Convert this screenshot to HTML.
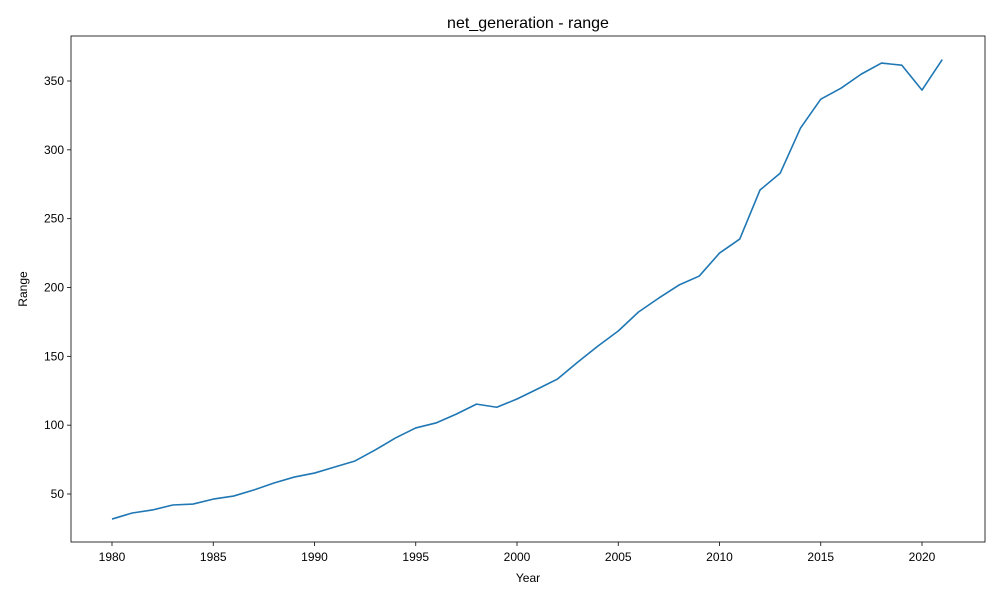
<!DOCTYPE html>
<html><head><meta charset="utf-8"><style>body{margin:0;background:#fff}svg{display:block;font-family:"Liberation Sans","DejaVu Sans",sans-serif}</style></head>
<body>
<svg id="chart" width="1000" height="600"></svg>
<script>
const years = [1980,1981,1982,1983,1984,1985,1986,1987,1988,1989,1990,1991,1992,1993,1994,1995,1996,1997,1998,1999,2000,2001,2002,2003,2004,2005,2006,2007,2008,2009,2010,2011,2012,2013,2014,2015,2016,2017,2018,2019,2020,2021];
const rangeValues = [31.8,36.2,38.4,42,42.7,46.3,48.5,52.9,58,62.3,65.2,69.6,74,82,90.7,98,101.6,108,115.3,113,119,126.2,133.5,145.8,157.5,168.4,182.2,192.3,201.8,208.3,225,235.2,270.8,283.1,315.8,336.8,344.8,355,363,361.5,343.4,365.6];
const xTicks = [1980,1985,1990,1995,2000,2005,2010,2015,2020];
const yTicks = [50,100,150,200,250,300,350];

const NS="http://www.w3.org/2000/svg";
const svg=document.getElementById('chart');
const L=71,R=985,T=36,B=542;
const x=v=>112+(v-1980)*(922-112)/40;
const y=v=>494-(v-50)*(494-81)/300;
function mk(tag,attrs,parent){const e=document.createElementNS(NS,tag);for(const k in attrs)e.setAttribute(k,attrs[k]);(parent||svg).appendChild(e);return e;}

const title=mk('text',{x:528,y:28,'text-anchor':'middle','font-size':16,fill:'#000'});


title.textContent='net_generation - range';

const line=mk('polyline',{points:years.map((yr,i)=>x(yr)+','+y(rangeValues[i])).join(' '),fill:'none',stroke:'#1f77b4','stroke-width':1.6,'stroke-linejoin':'round'});



const frame=mk('rect',{x:L,y:T,width:R-L,height:B-T,fill:'none',stroke:'#000','stroke-width':0.8});



xTicks.forEach(t=>{
  const g=mk('g',{});
  
  
  mk('line',{x1:x(t),x2:x(t),y1:B,y2:B+4,stroke:'#000','stroke-width':0.8},g);
  const tx=mk('text',{x:x(t),y:B+19,'text-anchor':'middle','font-size':12},g);tx.textContent=t;
});
yTicks.forEach(t=>{
  const g=mk('g',{});
  
  
  mk('line',{x1:L-4,x2:L,y1:y(t),y2:y(t),stroke:'#000','stroke-width':0.8},g);
  const tx=mk('text',{x:L-7,y:y(t)+4,'text-anchor':'end','font-size':12},g);tx.textContent=t;
});
const xl=mk('text',{x:528,y:582,'text-anchor':'middle','font-size':12});


xl.textContent='Year';
const yl=mk('text',{x:27,y:289,'text-anchor':'middle','font-size':12,transform:'rotate(-90 27 289)'});


yl.textContent='Range';
</script>
</body></html>
